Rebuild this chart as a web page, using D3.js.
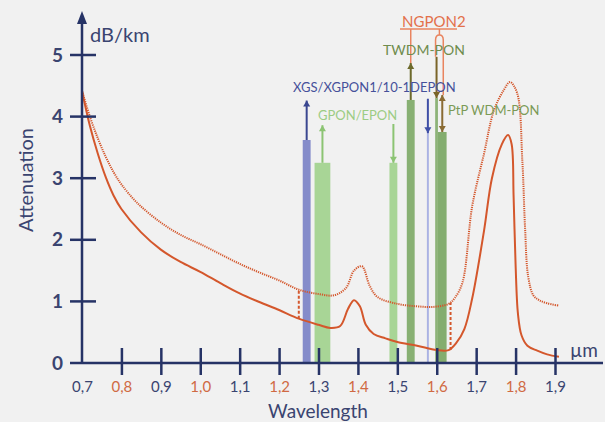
<!DOCTYPE html>
<html>
<head>
<meta charset="utf-8">
<script src="https://cdn.jsdelivr.net/npm/d3@7"></script>
<style>
  body { margin: 0; background: #f1f1f1; }
  svg { display: block; font-family: Lato, "Open Sans", sans-serif; }
</style>
</head>
<body>
<div id="chart"></div>
<script>
// chart data
const xTicks = [0.7, 0.8, 0.9, 1.0, 1.1, 1.2, 1.3, 1.4, 1.5, 1.6, 1.7, 1.8, 1.9];
const yTicks = [0, 1, 2, 3, 4, 5];

// solid attenuation curve (wavelength um, dB/km)
const solidWl  = [0.70, 0.72, 0.74, 0.76, 0.78, 0.80, 0.85, 0.90, 0.95, 1.00, 1.05, 1.10, 1.15, 1.20, 1.25, 1.30, 1.33, 1.355, 1.375, 1.39, 1.405, 1.42, 1.44, 1.47, 1.50, 1.55, 1.60, 1.63, 1.65, 1.67, 1.69, 1.72, 1.74, 1.765, 1.781, 1.79, 1.795, 1.80, 1.806, 1.815, 1.83, 1.855, 1.88, 1.91];
const solidVal = [4.42, 3.85, 3.40, 3.02, 2.72, 2.50, 2.12, 1.84, 1.64, 1.48, 1.30, 1.13, 0.99, 0.86, 0.72, 0.62, 0.57, 0.60, 0.88, 1.02, 0.92, 0.62, 0.47, 0.40, 0.34, 0.28, 0.21, 0.21, 0.33, 0.55, 1.05, 2.15, 3.00, 3.55, 3.70, 3.55, 2.70, 1.60, 0.80, 0.45, 0.28, 0.20, 0.14, 0.10];

// dotted attenuation curve
const dottedWl  = [0.70, 0.72, 0.74, 0.76, 0.78, 0.80, 0.84, 0.90, 0.95, 1.00, 1.05, 1.10, 1.15, 1.20, 1.25, 1.30, 1.34, 1.37, 1.39, 1.41, 1.43, 1.45, 1.50, 1.55, 1.59, 1.63, 1.645, 1.665, 1.69, 1.72, 1.745, 1.77, 1.786, 1.804, 1.817, 1.824, 1.832, 1.845, 1.86, 1.88, 1.91];
const dottedVal = [4.42, 4.00, 3.65, 3.35, 3.10, 2.90, 2.60, 2.28, 2.08, 1.93, 1.77, 1.61, 1.47, 1.34, 1.19, 1.12, 1.10, 1.22, 1.50, 1.57, 1.25, 1.07, 0.96, 0.92, 0.91, 0.96, 1.05, 1.30, 2.55, 3.40, 4.10, 4.43, 4.56, 4.38, 3.30, 2.20, 1.40, 1.10, 1.02, 0.97, 0.93];

// dashed markers between the two curves
const markerWl = [1.25, 1.635];
const markerLo = [0.72, 0.21];
const markerHi = [1.19, 0.98];

// PON bands
const bandNames = ["XGS up", "GPON up", "GPON down", "TWDM up", "XGS down", "TWDM down", "PtP"];
const bandFrom  = [1.260, 1.290, 1.480, 1.524, 1.575, 1.596, 1.603];
const bandTo    = [1.280, 1.330, 1.500, 1.544, 1.580, 1.603, 1.625];
const bandTop   = [3.62, 3.25, 3.25, 4.27, 3.73, 4.30, 3.75];
const arrowEnd  = [4.26, 3.86, 3.88, 4.87, 4.29, 4.97, 4.35];
const arrowDir  = ["up", "up", "down", "up", "down", "down", "both"];
const bandFill  = ["#858cca", "#a8d596", "#a8d596", "#88b073", "#aab2e3", "#8db378", "#84ad6f"];
const arrowCol  = ["#3a4790", "#8cc473", "#8cc473", "#6d6a2c", "#3f4fa6", "#7a6428", "#8a6b33"];

const width = 605, height = 422;
const navy = "#263366", orange = "#d4572c";

const svg = d3.select("#chart").append("svg")
    .attr("width", width)
    .attr("height", height);

svg.append("rect").attr("width", width).attr("height", height).attr("fill", "#f1f1f1");

const x = d3.scaleLinear().domain([0.7, 1.9]).range([82, 555]);
const y = d3.scaleLinear().domain([0, 5]).range([363, 55]);

// bands
const bands = bandNames.map((n, i) => ({
    name: n, from: bandFrom[i], to: bandTo[i], top: bandTop[i],
    end: arrowEnd[i], dir: arrowDir[i], fill: bandFill[i], col: arrowCol[i]
}));

svg.append("g").selectAll("rect")
    .data(bands)
    .join("rect")
    .attr("x", d => x(d.from))
    .attr("width", d => x(d.to) - x(d.from))
    .attr("y", d => y(d.top))
    .attr("height", d => y(0) - y(d.top))
    .attr("fill", d => d.fill);

function head(g, cx, cy, dir, col) {
    const s = dir === "up" ? -1 : 1;
    g.append("path")
        .attr("d", `M${cx - 3.5},${cy - s * 6}L${cx + 3.5},${cy - s * 6}L${cx},${cy}Z`)
        .attr("fill", col);
}

const arrows = svg.append("g");
bands.forEach(d => {
    const cx = (x(d.from) + x(d.to)) / 2;
    arrows.append("line")
        .attr("x1", cx).attr("x2", cx)
        .attr("y1", y(d.top)).attr("y2", y(d.end))
        .attr("stroke", d.col).attr("stroke-width", 2);
    if (d.dir === "up") head(arrows, cx, y(d.end), "up", d.col);
    else if (d.dir === "down") head(arrows, cx, y(d.top), "down", d.col);
    else {
        head(arrows, cx, y(d.end), "up", d.col);
        head(arrows, cx, y(d.top), "down", d.col);
    }
});

// NGPON2 bracket
const ng = svg.append("g").attr("fill", "none").attr("stroke", "#e9845f").attr("stroke-width", 1.5);
const twUp = (x(bandFrom[3]) + x(bandTo[3])) / 2;
const twDn = (x(bandFrom[5]) + x(bandTo[5])) / 2;
const ptp = (x(bandFrom[6]) + x(bandTo[6])) / 2;
ng.append("line").attr("x1", 400).attr("x2", 457).attr("y1", 29).attr("y2", 29);
ng.append("line").attr("x1", twUp).attr("x2", twUp).attr("y1", 29).attr("y2", y(arrowEnd[3]));
ng.append("line").attr("x1", (twDn + ptp) / 2).attr("x2", (twDn + ptp) / 2).attr("y1", 29).attr("y2", 35);
ng.append("path")
    .attr("d", `M${twDn - 1},${y(arrowEnd[5])}V40Q${twDn - 1},35 ${(twDn + ptp) / 2},35Q${ptp + 1},35 ${ptp + 1},40V${y(arrowEnd[6])}`);

// curves
const line = d3.line().x(d => x(d[0])).y(d => y(d[1])).curve(d3.curveCatmullRom.alpha(0.5));
svg.append("path")
    .datum(dottedWl.map((w, i) => [w, dottedVal[i]]))
    .attr("d", line)
    .attr("fill", "none").attr("stroke", orange).attr("stroke-width", 2)
    .attr("stroke-dasharray", "1.2,1");
svg.append("path")
    .datum(solidWl.map((w, i) => [w, solidVal[i]]))
    .attr("d", line)
    .attr("fill", "none").attr("stroke", orange).attr("stroke-width", 2);

svg.append("g").selectAll("line")
    .data(markerWl)
    .join("line")
    .attr("x1", d => x(d)).attr("x2", d => x(d))
    .attr("y1", (d, i) => y(markerLo[i])).attr("y2", (d, i) => y(markerHi[i]))
    .attr("stroke", orange).attr("stroke-width", 2)
    .attr("stroke-dasharray", "3,2");

// axes
const xAxis = svg.append("g")
    .attr("transform", `translate(0,${y(0)})`)
    .call(d3.axisBottom(x).tickValues(xTicks).tickSize(12).tickPadding(6)
        .tickFormat(d => d3.format(".1f")(d).replace(".", ",")));
xAxis.select(".domain").remove();
xAxis.selectAll(".tick line")
    .attr("y1", -15).attr("stroke", navy).attr("stroke-width", 2.5)
    .attr("display", (d, i) => i === 0 ? "none" : null);
xAxis.selectAll(".tick text")
    .attr("font-size", 15).attr("font-family", "Lato, sans-serif")
    .attr("fill", (d, i) => i % 2 ? "#d06a43" : "#3a4470");

const yAxis = svg.append("g")
    .attr("transform", `translate(${x(0.7)},0)`)
    .call(d3.axisLeft(y).tickValues(yTicks).tickSize(0).tickPadding(19).tickFormat(d3.format("d")));
yAxis.select(".domain").remove();
yAxis.selectAll(".tick line").remove();
yAxis.selectAll(".tick text")
    .attr("font-size", 19).attr("font-weight", "bold").attr("font-family", "Lato, sans-serif")
    .attr("fill", "#3a4470");

// y tick marks crossing the axis
svg.append("g").selectAll("line")
    .data(yTicks)
    .join("line")
    .attr("x1", x(0.7) - 12)
    .attr("x2", d => d === 0 ? x(0.7) : x(0.7) + 14)
    .attr("y1", d => y(d)).attr("y2", d => y(d))
    .attr("stroke", navy).attr("stroke-width", 2.5);

svg.append("line")
    .attr("x1", x(0.7)).attr("x2", 603).attr("y1", y(0)).attr("y2", y(0))
    .attr("stroke", navy).attr("stroke-width", 2.5);
svg.append("line")
    .attr("x1", x(0.7)).attr("x2", x(0.7)).attr("y1", y(0) + 1).attr("y2", 20)
    .attr("stroke", navy).attr("stroke-width", 2.5);
svg.append("path")
    .attr("d", `M${x(0.7) - 5},24L${x(0.7)},11L${x(0.7) + 5},24Z`)
    .attr("fill", navy);

// titles
svg.append("text").attr("x", 90).attr("y", 42).text("dB/km")
    .attr("font-size", 20).attr("fill", "#3a4470");
svg.append("text").attr("x", 570).attr("y", 357).text("µm")
    .attr("font-size", 19).attr("fill", "#3a4470");
svg.append("text").attr("x", 318).attr("y", 418).attr("text-anchor", "middle").text("Wavelength")
    .attr("font-size", 19).attr("fill", "#3a4470");
svg.append("text").attr("transform", "translate(33,180) rotate(-90)").attr("text-anchor", "middle")
    .text("Attenuation").attr("font-size", 20).attr("fill", "#3a4470");

// band labels
const labels = [
    {t: "NGPON2", x: 402, y: 27, c: "#e3704a", s: 15},
    {t: "TWDM-PON", x: 383, y: 55, c: "#6f8c4d", s: 14},
    {t: "XGS/XGPON1/10-1DEPON", x: 293, y: 92, c: "#45509a", s: 13},
    {t: "GPON/EPON", x: 318, y: 120, c: "#9ccc84", s: 13},
    {t: "PtP WDM-PON", x: 448, y: 115, c: "#7b9a56", s: 13}
];
svg.append("g").selectAll("text")
    .data(labels)
    .join("text")
    .attr("x", d => d.x).attr("y", d => d.y)
    .attr("font-size", d => d.s)
    .attr("fill", d => d.c)
    .text(d => d.t);
</script>
</body>
</html>
